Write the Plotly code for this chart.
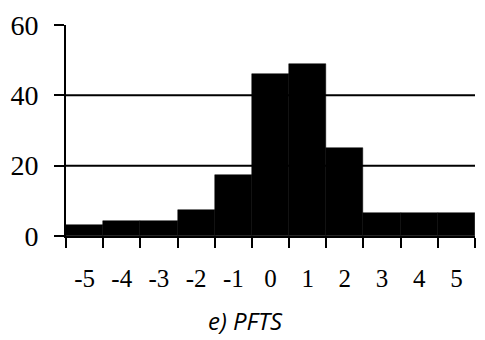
import plotly.graph_objects as go

categories = [-5, -4, -3, -2, -1, 0, 1, 2, 3, 4, 5]
counts = [3.2, 4.4, 4.4, 7.5, 17.4, 46.2, 48.8, 24.9, 6.4, 6.4, 6.4]
tick_labels = [str(c) for c in categories]
y_ticks = [0, 20, 40, 60]
grid_vals = [20, 40]
title_text = "e) PFTS"

serif = "Liberation Serif"


def serif_text(s):
    return "<span style='font-family:Liberation Serif, Times New Roman, serif'>" + s + "</span>"


fig = go.Figure()
fig.add_trace(go.Bar(x=tick_labels, y=counts, width=1,
                     marker=dict(color="black", line=dict(color="black", width=0.5)),
                     showlegend=False))

fig.update_layout(
    width=485, height=340,
    font=dict(family=serif, color="black"),
    margin=dict(l=62, r=10, t=21, b=104),
    paper_bgcolor="white", plot_bgcolor="white",
    bargap=0,
    xaxis=dict(type="category", range=[-0.5, len(categories) - 0.5],
               tickmode="array", tickvals=tick_labels,
               ticktext=[serif_text(t) for t in tick_labels],
               tickson="boundaries", ticks="outside", ticklen=10, tickwidth=2,
               tickcolor="black", showgrid=False, zeroline=False,
               showline=True, linecolor="black", linewidth=2,
               tickfont=dict(family=serif, size=25, color="black"),
               ticklabelstandoff=19),
    yaxis=dict(range=[0, 60], tickmode="array", tickvals=y_ticks,
               ticktext=[serif_text(str(v)) for v in y_ticks],
               ticks="outside", ticklen=10, tickwidth=2, tickcolor="black",
               showgrid=False, zeroline=False, showline=True,
               linecolor="black", linewidth=2,
               tickfont=dict(family=serif, size=28, color="black"),
               ticklabelstandoff=10),
    shapes=[dict(type="line", xref="paper", x0=0, x1=1, yref="y", y0=v, y1=v,
                 line=dict(color="black", width=2), layer="below")
            for v in grid_vals],
    annotations=[dict(text="<i>" + title_text + "</i>", xref="paper", yref="paper",
                      x=0.44, y=-0.40, xanchor="center", yanchor="middle",
                      showarrow=False, font=dict(family="Open Sans", size=24, color="black"))],
)
fig.write_html("out.html")
